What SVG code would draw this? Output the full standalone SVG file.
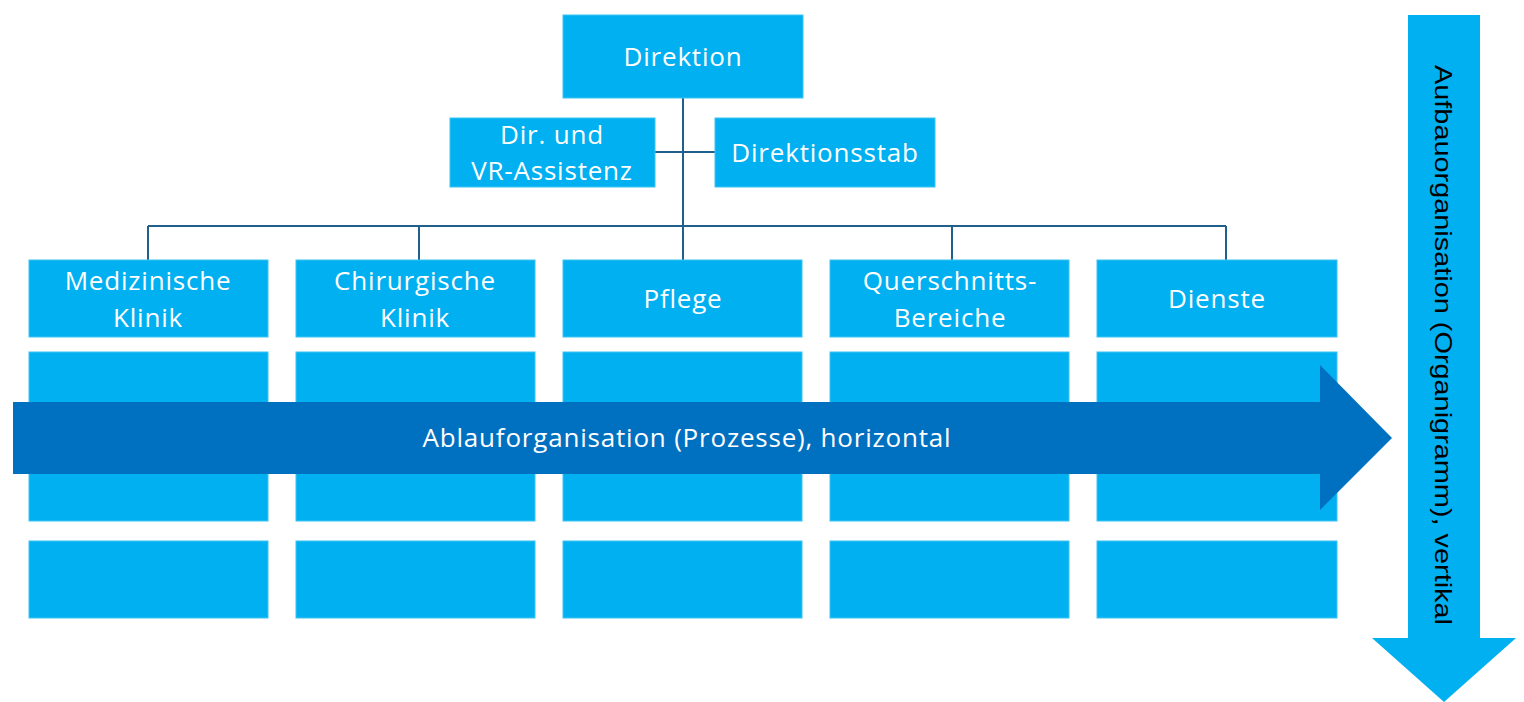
<svg xmlns="http://www.w3.org/2000/svg" width="1524" height="702" viewBox="0 0 1524 702">
<style>
.box{fill:#00B0F0;stroke:#3CC4F4;stroke-width:1}
.t{font-family:"Open Sans","Noto Sans",sans-serif;font-size:26px;letter-spacing:0.8px;fill:#ffffff;text-anchor:middle}
.ln{stroke:#215F8C;stroke-width:2;fill:none}
</style>
<g id="connectors">
<line class="ln" x1="683" y1="98" x2="683" y2="260"/>
<line class="ln" x1="655" y1="152" x2="715" y2="152"/>
<line class="ln" x1="148" y1="226" x2="1226" y2="226"/>
<line class="ln" x1="148" y1="226" x2="148" y2="260"/>
<line class="ln" x1="419" y1="226" x2="419" y2="260"/>
<line class="ln" x1="952" y1="226" x2="952" y2="260"/>
<line class="ln" x1="1226" y1="226" x2="1226" y2="260"/>
</g>
<g id="direktion"><rect class="box" x="563" y="15" width="240" height="83"/><text class="t" x="683" y="66">Direktion</text></g>
<g id="assistenz"><rect class="box" x="450" y="118" width="205" height="69"/><text class="t" x="552" y="144">Dir. und</text><text class="t" x="552" y="180">VR-Assistenz</text></g>
<g id="direktionsstab"><rect class="box" x="715" y="118" width="220" height="69"/><text class="t" x="825" y="162">Direktionsstab</text></g>
<g id="medizinische"><rect class="box" x="29" y="260" width="239" height="77"/><text class="t" x="148" y="290">Medizinische</text><text class="t" x="148" y="327">Klinik</text></g>
<g id="chirurgische"><rect class="box" x="296" y="260" width="239" height="77"/><text class="t" x="415" y="290">Chirurgische</text><text class="t" x="415" y="327">Klinik</text></g>
<g id="pflege"><rect class="box" x="563" y="260" width="239" height="77"/><text class="t" x="683" y="308">Pflege</text></g>
<g id="querschnitt"><rect class="box" x="830" y="260" width="239" height="77"/><text class="t" x="950" y="290">Querschnitts-</text><text class="t" x="950" y="327">Bereiche</text></g>
<g id="dienste"><rect class="box" x="1097" y="260" width="240" height="77"/><text class="t" x="1217" y="308">Dienste</text></g>
<g id="row2">
<rect class="box" x="29" y="352" width="239" height="169"/>
<rect class="box" x="296" y="352" width="239" height="169"/>
<rect class="box" x="563" y="352" width="239" height="169"/>
<rect class="box" x="830" y="352" width="239" height="169"/>
<rect class="box" x="1097" y="352" width="240" height="169"/>
</g>
<g id="row3">
<rect class="box" x="29" y="541" width="239" height="77"/>
<rect class="box" x="296" y="541" width="239" height="77"/>
<rect class="box" x="563" y="541" width="239" height="77"/>
<rect class="box" x="830" y="541" width="239" height="77"/>
<rect class="box" x="1097" y="541" width="240" height="77"/>
</g>
<g id="ablauf">
<polygon points="13,402 1320,402 1320,365 1392,438 1320,510 1320,474 13,474" fill="#0070C0"/>
<text class="t" x="687" y="447">Ablauforganisation (Prozesse), horizontal</text>
</g>
<g id="aufbau">
<polygon points="1408,15 1480,15 1480,638 1516,638 1444,702 1372,638 1408,638" fill="#00B0F0"/>
<text transform="translate(1443,345) rotate(90)" x="0" y="0" font-family="Liberation Sans, Arial, sans-serif" font-size="24" fill="#000000" text-anchor="middle" dominant-baseline="central" textLength="560" lengthAdjust="spacingAndGlyphs">Aufbauorganisation (Organigramm), vertikal</text>
</g>
</svg>
